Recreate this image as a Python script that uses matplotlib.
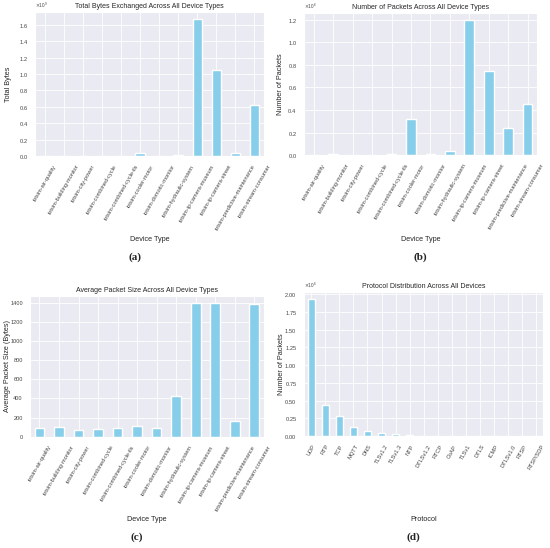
import numpy as np
import seaborn as sns
from matplotlib import pyplot as plt

# Device level data
devices = ["iotsim-air-quality", "iotsim-building-monitor", "iotsim-city-power",
           "iotsim-combined-cycle", "iotsim-combined-cycle-tls", "iotsim-cooler-motor",
           "iotsim-domotic-monitor", "iotsim-hydraulic-system", "iotsim-ip-camera-museum",
           "iotsim-ip-camera-street", "iotsim-predictive-maintenance", "iotsim-stream-consumer"]
total_bytes = [0.8e6, 0.9e6, 0.3e6, 0.5e6, 1.0e6, 37e6,
               0.8e6, 15e6, 1.67e9, 1.05e9, 38e6, 0.62e9]
num_packets = [1e3, 8e3, 1e3, 5e3, 10e3, 0.32e6,
               8e3, 35e3, 1.20e6, 0.75e6, 0.24e6, 0.45e6]
avg_size = [90, 100, 68, 80, 88, 115, 88, 428, 1400, 1400, 160, 1390]

# Protocol data
protocols = ["UDP", "RTP", "TCP", "MQTT", "DNS", "TLSv1.2", "TLSv1.3", "NTP",
             "DTLSv1.2", "RTCP", "CoAP", "TLSv1", "DTLS", "ICMP", "DTLSv1.0",
             "RTSP", "RTSP/SDP"]
proto_packets = [1.93e6, 0.44e6, 0.28e6, 0.13e6, 0.07e6, 0.045e6, 0.03e6, 0.012e6,
                 4e3, 3e3, 2e3, 1e3, 800, 500, 300, 200, 100]

sns.set_style("darkgrid")
plt.rcParams['font.family'] = ['Liberation Sans', 'DejaVu Sans']

bar_color = "#87CEEB"
tick_fs = 4.1
label_fs = 5.2
title_fs = 5.0

fig = plt.figure(figsize=(5.5, 5.48), dpi=100)

panels = [
    # rect, labels, values, title, ylabel, sci, xlabel, xlabel y, ylabel x, caption xy, caption
    ([0.064, 0.715, 0.416, 0.263], devices, total_bytes,
     "Total Bytes Exchanged Across All Device Types", "Total Bytes", True,
     "Device Type", 0.569, 0.022, (0.245, 0.531), "(a)"),
    ([0.553, 0.717, 0.424, 0.259], devices, num_packets,
     "Number of Packets Across All Device Types", "Number of Packets", True,
     "Device Type", 0.569, 0.516, (0.764, 0.531), "(b)"),
    ([0.054, 0.203, 0.426, 0.257], devices, avg_size,
     "Average Packet Size Across All Device Types", "Average Packet Size (Bytes)", False,
     "Device Type", 0.058, 0.020, (0.249, 0.020), "(c)"),
    ([0.553, 0.204, 0.435, 0.263], protocols, proto_packets,
     "Protocol Distribution Across All Devices", "Number of Packets", True,
     "Protocol", 0.058, 0.518, (0.751, 0.020), "(d)"),
]

for rect, cats, vals, title, ylabel, sci, xlab, xlab_y, ylab_x, cap_xy, cap in panels:
    ax = fig.add_axes(rect)
    x = np.arange(len(cats))
    ax.bar(x, vals, width=0.5, color=bar_color)
    ax.set_xlim(-0.5, len(cats) - 0.5)
    ax.set_ylim(0, max(vals) * 1.05)
    ax.set_xticks(x)
    ax.set_xticklabels(cats, rotation=60, fontsize=tick_fs, color="#444444")
    ax.tick_params(axis="y", labelsize=tick_fs, pad=1.5, labelcolor="#444444")
    ax.tick_params(axis="x", pad=2)
    if sci:
        ax.ticklabel_format(axis="y", style="sci", scilimits=(0, 0), useMathText=True)
        ax.yaxis.get_offset_text().set_fontsize(3.4)
        ax.yaxis.get_offset_text().set_color("#444444")
    ax.set_title(title, fontsize=title_fs, pad=3)
    ax.set_ylabel(ylabel, fontsize=label_fs)
    ax.set_xlabel(xlab, fontsize=label_fs)
    ax.xaxis.set_label_coords(rect[0] + rect[2] / 2, xlab_y, transform=fig.transFigure)
    ax.yaxis.set_label_coords(ylab_x, rect[1] + rect[3] / 2, transform=fig.transFigure)
    ax.grid(True, color="white", linewidth=0.6)
    fig.text(cap_xy[0], cap_xy[1], cap, fontsize=8, fontweight="bold",
             family="Liberation Serif", ha="center", va="center")

fig.savefig("out.png", dpi=100)
